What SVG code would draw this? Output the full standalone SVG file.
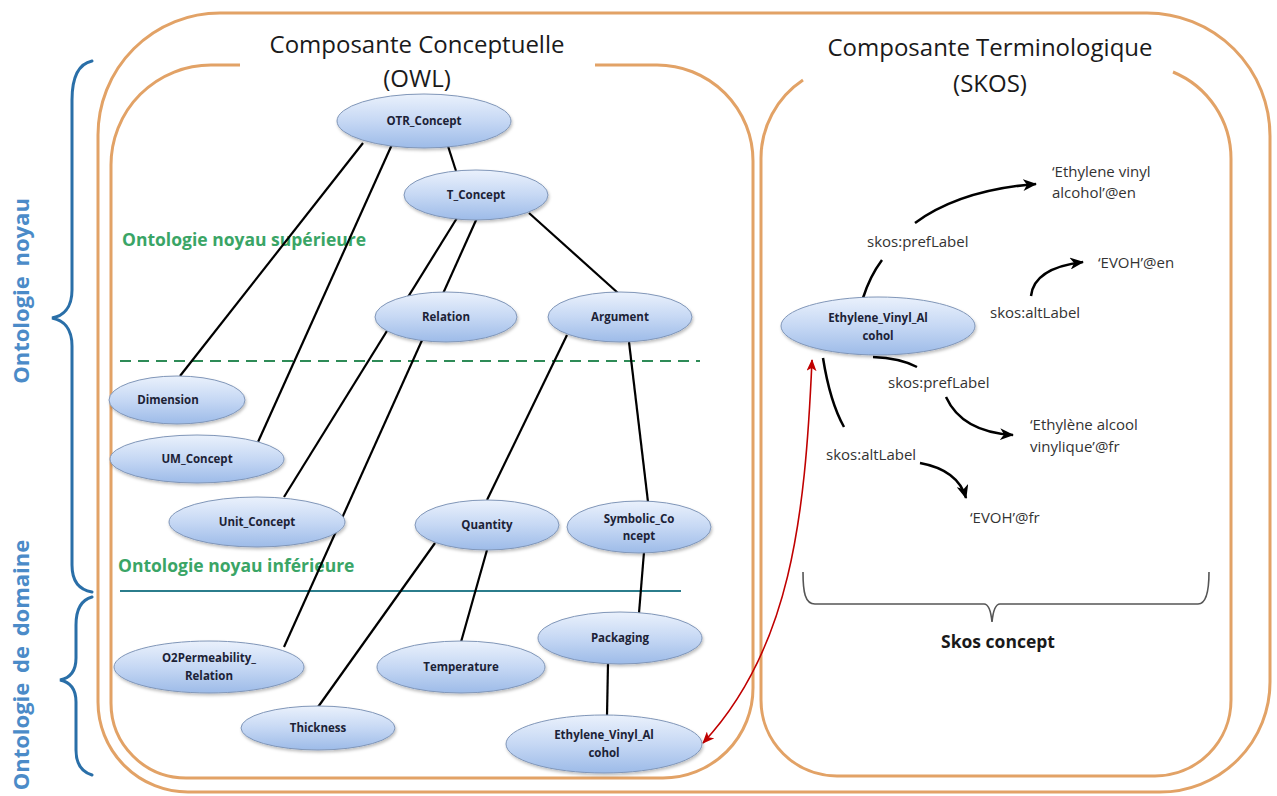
<svg xmlns="http://www.w3.org/2000/svg" width="1277" height="796" viewBox="0 0 1277 796">
<defs>
<linearGradient id="eg" x1="0" y1="0" x2="0" y2="1">
<stop offset="0" stop-color="#eaf1fc"/>
<stop offset="0.5" stop-color="#c6d8f4"/>
<stop offset="1" stop-color="#9dbbe8"/>
</linearGradient>
<filter id="sh" x="-10%" y="-20%" width="125%" height="150%">
<feDropShadow dx="1" dy="2" stdDeviation="1.5" flood-color="#000" flood-opacity="0.25"/>
</filter>
<marker id="ah" viewBox="0 0 14 12" refX="13" refY="6" markerWidth="14" markerHeight="12" orient="auto" markerUnits="userSpaceOnUse">
<path d="M0,0 L14,6 L0,12 L4,6 Z" fill="#000"/>
</marker>
<marker id="rh" viewBox="0 0 12 10" refX="11" refY="5" markerWidth="12" markerHeight="10" orient="auto-start-reverse" markerUnits="userSpaceOnUse">
<path d="M0,0 L12,5 L0,10 L3,5 Z" fill="#c00000"/>
</marker>
</defs>
<style>
.box{fill:none;stroke:#e2a266;stroke-width:3}
.brace{fill:none;stroke:#2a6fa8;stroke-width:3;stroke-linecap:round}
.vt{font-family:"Open Sans",sans-serif;font-weight:bold;font-size:22px;fill:#4b8bc8;text-anchor:middle;word-spacing:4px}
.title{font-family:"Open Sans",sans-serif;font-size:24px;fill:#1a1a1a;text-anchor:middle}
.green{font-family:"Open Sans",sans-serif;font-weight:bold;font-size:17.5px;fill:#3aa566}
.node ellipse{fill:url(#eg);stroke:#8096b8;stroke-width:1;filter:url(#sh)}
.node text{font-family:"Open Sans",sans-serif;font-weight:bold;font-size:11.5px;fill:#1c2236;text-anchor:middle}
.edge{stroke:#000;stroke-width:2.2;fill:none}
.arc{stroke:#000;stroke-width:2.5;fill:none}
.lbl{font-family:"Open Sans",sans-serif;font-size:15px;fill:#333}
</style>
<rect width="1277" height="796" fill="#fff"/>

<!-- frames -->
<g id="frames">
<path class="box" d="M220 13 L1147 13 A123 123 0 0 1 1270 136 L1270 682 A110 110 0 0 1 1160 792 L188 792 A90 90 0 0 1 98 702 L98 135 A122 122 0 0 1 220 13 Z"/>
<path class="box" d="M240 65 L211 65 A100 100 0 0 0 111 165 L111 703 A75 75 0 0 0 186 778 L663 778 A90 90 0 0 0 753 688 L753 161 A96 96 0 0 0 657 65 L595 65"/>
<path class="box" d="M803 80 A94 94 0 0 0 761 159 L761 700 A76 76 0 0 0 837 776 L1155 776 A76 76 0 0 0 1231 700 L1231 159 A94 94 0 0 0 1173 72"/>
</g>

<!-- titles -->
<g id="titles">
<text class="title" x="417" y="53">Composante Conceptuelle</text>
<text class="title" x="417" y="87">(OWL)</text>
<text class="title" x="990" y="56">Composante Terminologique</text>
<text class="title" x="990" y="92">(SKOS)</text>
</g>

<!-- side braces -->
<g id="side">
<path class="brace" d="M92 61 C78 64 72 78 72 100 L72 290 C72 308 63 316 52 318 C63 320 72 328 72 346 L72 565 C72 582 80 590 92 592"/>
<path class="brace" d="M92 597 C81 600 76 610 76 625 L76 658 C76 671 70 678 60 680 C70 682 76 689 76 702 L76 750 C76 764 82 772 92 775"/>
<text class="vt" transform="translate(29,291) rotate(-90)">Ontologie noyau</text>
<text class="vt" transform="translate(29,665) rotate(-90)">Ontologie de domaine</text>
</g>

<!-- level separators -->
<g id="levels">
<line x1="120" y1="361" x2="700" y2="361" stroke="#2e8b57" stroke-width="2" stroke-dasharray="11 7"/>
<line x1="120" y1="591" x2="681" y2="591" stroke="#2b7d8c" stroke-width="2"/>
<text class="green" x="122" y="246">Ontologie noyau supérieure</text>
<text class="green" x="118" y="572">Ontologie noyau inférieure</text>
</g>

<!-- connectors -->
<g id="connectors">
<line class="edge" x1="363" y1="143" x2="180" y2="376"/>
<line class="edge" x1="394" y1="140" x2="258" y2="442"/>
<line class="edge" x1="447" y1="143" x2="456" y2="171"/>
<line class="edge" x1="457" y1="218" x2="284" y2="497"/>
<line class="edge" x1="477" y1="218" x2="284" y2="647"/>
<line class="edge" x1="529" y1="213" x2="618" y2="293"/>
<line class="edge" x1="567" y1="335" x2="487" y2="500"/>
<line class="edge" x1="629" y1="342" x2="648" y2="502"/>
<line class="edge" x1="435" y1="543" x2="318" y2="707"/>
<line class="edge" x1="487" y1="550" x2="461" y2="642"/>
<line class="edge" x1="644" y1="552" x2="639" y2="613"/>
<line class="edge" x1="608" y1="663" x2="607" y2="716"/>
<!-- SKOS relations -->
<path class="arc" d="M863 298 Q870 276 882 260"/>
<path class="arc" d="M915 223 Q960 190 1036 184" marker-end="url(#ah)"/>
<path class="arc" d="M1031 296 Q1034 268 1083 262" marker-end="url(#ah)"/>
<path class="arc" d="M873 357 Q900 358 917 367"/>
<path class="arc" d="M946 397 Q962 432 1013 435" marker-end="url(#ah)"/>
<path class="arc" d="M823 358 Q830 402 844 427"/>
<path class="arc" d="M920 463 Q958 470 966 498" marker-end="url(#ah)"/>
<path d="M812 360 C805 520 790 650 703 743" stroke="#c00000" stroke-width="1.6" fill="none" marker-start="url(#rh)" marker-end="url(#rh)"/>
</g>

<!-- nodes -->
<g id="n-otr" class="node"><ellipse cx="424" cy="121" rx="87" ry="27"/><text x="424" y="125">OTR_Concept</text></g>
<g id="n-tconcept" class="node"><ellipse cx="476" cy="195" rx="72" ry="25"/><text x="476" y="199">T_Concept</text></g>
<g id="n-relation" class="node"><ellipse cx="446" cy="317" rx="71" ry="25"/><text x="446" y="321">Relation</text></g>
<g id="n-argument" class="node"><ellipse cx="620" cy="317" rx="72" ry="25"/><text x="620" y="321">Argument</text></g>
<g id="n-dimension" class="node"><ellipse cx="177" cy="400" rx="68" ry="24"/><text x="168" y="404">Dimension</text></g>
<g id="n-um" class="node"><ellipse cx="197" cy="459" rx="87" ry="24"/><text x="197" y="463">UM_Concept</text></g>
<g id="n-unit" class="node"><ellipse cx="257" cy="522" rx="88" ry="25"/><text x="257" y="526">Unit_Concept</text></g>
<g id="n-quantity" class="node"><ellipse cx="487" cy="525" rx="72" ry="25"/><text x="487" y="529">Quantity</text></g>
<g id="n-symbolic" class="node"><ellipse cx="639" cy="527" rx="72" ry="26"/><text x="639" y="523">Symbolic_Co</text><text x="639" y="540">ncept</text></g>
<g id="n-packaging" class="node"><ellipse cx="620" cy="638" rx="82" ry="26"/><text x="620" y="642">Packaging</text></g>
<g id="n-o2perm" class="node"><ellipse cx="209" cy="667" rx="95" ry="26"/><text x="209" y="662">O2Permeability_</text><text x="209" y="680">Relation</text></g>
<g id="n-temperature" class="node"><ellipse cx="461" cy="667" rx="84" ry="26"/><text x="461" y="671">Temperature</text></g>
<g id="n-thickness" class="node"><ellipse cx="318" cy="728" rx="77" ry="22"/><text x="318" y="732">Thickness</text></g>
<g id="n-evoh-owl" class="node"><ellipse cx="604" cy="744" rx="98" ry="29"/><text x="604" y="739">Ethylene_Vinyl_Al</text><text x="604" y="757">cohol</text></g>
<g id="n-evoh-skos" class="node"><ellipse cx="878" cy="326" rx="97" ry="29"/><text x="878" y="322">Ethylene_Vinyl_Al</text><text x="878" y="340">cohol</text></g>

<!-- SKOS labels -->
<g id="skos-labels">
<text class="lbl" x="867" y="247">skos:prefLabel</text>
<text class="lbl" x="990" y="318">skos:altLabel</text>
<text class="lbl" x="888" y="388">skos:prefLabel</text>
<text class="lbl" x="826" y="460">skos:altLabel</text>
<text class="lbl" x="1052" y="177">‘Ethylene vinyl</text>
<text class="lbl" x="1052" y="198">alcohol’@en</text>
<text class="lbl" x="1098" y="268">‘EVOH’@en</text>
<text class="lbl" x="1030" y="430">‘Ethylène alcool</text>
<text class="lbl" x="1030" y="452">vinylique’@fr</text>
<text class="lbl" x="970" y="523">‘EVOH’@fr</text>
</g>

<!-- Skos concept brace -->
<g id="skos-concept">
<path d="M803 572 C803 592 805 604 815 604 L984 604 C989 604 991 612 992 622 C993 612 995 604 1000 604 L1198 604 C1206 604 1209 592 1209 572" fill="none" stroke="#555" stroke-width="1.6"/>
<text x="998" y="648" font-family="'Open Sans',sans-serif" font-weight="bold" font-size="17.5" fill="#1a1a1a" text-anchor="middle">Skos concept</text>
</g>
</svg>
